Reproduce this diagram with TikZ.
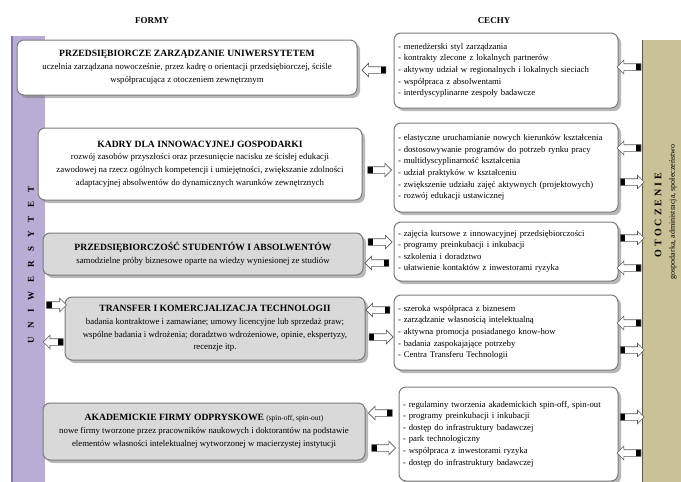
\documentclass[tikz,border=0pt]{standalone}
\usepackage{fontspec}
\setmainfont{Liberation Serif}
\usetikzlibrary{shapes.arrows,shadows}
\definecolor{uniwfill}{HTML}{B9ADD6}
\definecolor{uniwline}{HTML}{8676B0}
\definecolor{otoczfill}{HTML}{CBC197}
\definecolor{otoczline}{HTML}{5E5848}
\definecolor{boxgray}{HTML}{D9D9D9}
\definecolor{boxline}{HTML}{7A7A7A}
\newcommand{\tytul}[1]{{\fontsize{9.6}{12}\selectfont\bfseries #1}}
\tikzset{
    forma/.style={draw=boxline, line width=1pt, rounded corners=7pt, fill=white, align=center,
        inner sep=2pt, font=\fontsize{8.8}{12.8}\selectfont,
        drop shadow={shadow xshift=3pt, shadow yshift=-3pt, fill=black!55}},
    formagray/.style={forma, fill=boxgray},
    cecha/.style={forma, align=left, text width=216pt, inner xsep=4pt, font=\fontsize{8.7}{11.6}\selectfont},
    flowarrow/.style={single arrow, draw=gray!70!black, fill=white, line width=0.6pt,
        inner xsep=0pt, inner ysep=3pt, minimum height=24pt, minimum width=13pt, single arrow head extend=3.5pt},
    flowright/.style={flowarrow, shape border rotate=0,
        path picture={\fill[black] (path picture bounding box.south west) rectangle ([xshift=5pt]path picture bounding box.north west);}},
    flowleft/.style={flowarrow, shape border rotate=180,
        path picture={\fill[black] ([xshift=-5pt]path picture bounding box.south east) rectangle (path picture bounding box.north east);}}
}
\begin{document}
\begin{tikzpicture}[x=1pt, y=-1pt]
    \useasboundingbox[fill=white] (0,0) rectangle (681,482);

    \node[fill=uniwfill, inner sep=0pt, minimum width=33pt, minimum height=446pt] (uniw) at (28.5,259) {};
    \draw[uniwline, line width=1.5pt] (uniw.north west) -- (uniw.south west);
    \node[rotate=90, font=\fontsize{9}{9}\selectfont\bfseries] at (31,265)
        {U\hspace{9pt}N\hspace{9pt}I\hspace{9pt}W\hspace{9pt}E\hspace{9pt}R\hspace{9pt}S\hspace{9pt}Y\hspace{9pt}T\hspace{9pt}E\hspace{9pt}T};

    \node[fill=otoczfill, inner sep=0pt, minimum width=38pt, minimum height=442pt] (otocz) at (662,261) {};
    \draw[otoczline, line width=1.2pt] (otocz.north west) -- (otocz.south west);
    \node[rotate=90, font=\fontsize{10}{10}\selectfont\bfseries] at (658,215)
        {O\hspace{3pt}T\hspace{3pt}O\hspace{3pt}C\hspace{3pt}Z\hspace{3pt}E\hspace{3pt}N\hspace{3pt}I\hspace{3pt}E};
    \node[rotate=90, font=\fontsize{8}{8}\selectfont] at (673,212) {gospodarka, administracja, społeczeństwo};

    \node[font=\fontsize{9}{9}\selectfont\bfseries] (formy) at (152,21) {FORMY};
    \node[font=\fontsize{9}{9}\selectfont\bfseries] (cechy) at (494,21) {CECHY};

    \node[forma, minimum width=340pt, minimum height=55pt] (f1) at (187,67.5)
        {\tytul{PRZEDSIĘBIORCZE ZARZĄDZANIE UNIWERSYTETEM}\\
        uczelnia zarządzana nowocześnie, przez kadrę o orientacji przedsiębiorczej, ściśle\\
        współpracująca z otoczeniem zewnętrznym};
    \node[forma, minimum width=324pt, minimum height=72pt] (f2) at (200,164)
        {\tytul{KADRY DLA INNOWACYJNEJ GOSPODARKI}\\
        rozwój zasobów przyszłości oraz przesunięcie nacisku ze ścisłej edukacji\\
        zawodowej na rzecz ogólnych kompetencji i umiejętności, zwiększanie zdolności\\
        adaptacyjnej absolwentów do dynamicznych warunków zewnętrznych};
    \node[formagray, minimum width=320pt, minimum height=42pt] (f3) at (203,254)
        {\tytul{PRZEDSIĘBIORCZOŚĆ STUDENTÓW I ABSOLWENTÓW}\\
        samodzielne próby biznesowe oparte na wiedzy wyniesionej ze studiów};
    \node[formagray, minimum width=300pt, minimum height=63pt] (f4) at (215,328.5)
        {\tytul{TRANSFER I KOMERCJALIZACJA TECHNOLOGII}\\
        badania kontraktowe i zamawiane; umowy licencyjne lub sprzedaż praw;\\
        wspólne badania i wdrożenia; doradztwo wdrożeniowe, opinie, ekspertyzy,\\
        recenzje itp.};
    \node[formagray, minimum width=322pt, minimum height=57pt] (f5) at (204,431.5)
        {\tytul{AKADEMICKIE FIRMY ODPRYSKOWE} {\fontsize{7.5}{9}\selectfont (spin-off, spin-out)}\\
        nowe firmy tworzone przez pracowników naukowych i doktorantów na podstawie\\
        elementów własności intelektualnej wytworzonej w macierzystej instytucji};

    \node[cecha, minimum height=75pt] (cA) at (506,70.5)
        {- menedżerski styl zarządzania\\
        - kontrakty zlecone z lokalnych partnerów\\
        - aktywny udział w regionalnych i lokalnych sieciach\\
        - współpraca z absolwentami\\
        - interdyscyplinarne zespoły badawcze};
    \node[cecha, minimum height=89pt] (cB) at (506,167.5)
        {- elastyczne uruchamianie nowych kierunków kształcenia\\
        - dostosowywanie programów do potrzeb rynku pracy\\
        - multidyscyplinarność kształcenia\\
        - udział praktyków w kształceniu\\
        - zwiększenie udziału zajęć aktywnych (projektowych)\\
        - rozwój edukacji ustawicznej};
    \node[cecha, minimum height=59pt] (cC) at (506,251.5)
        {- zajęcia kursowe z innowacyjnej przedsiębiorczości\\
        - programy preinkubacji i inkubacji\\
        - szkolenia i doradztwo\\
        - ułatwienie kontaktów z inwestorami ryzyka};
    \node[cecha, minimum height=75pt] (cD) at (506,332.5)
        {- szeroka współpraca z biznesem\\
        - zarządzanie własnością intelektualną\\
        - aktywna promocja posiadanego know-how\\
        - badania zaspokajające potrzeby\\
        - Centra Transferu Technologii};
    \node[cecha, text width=211pt, minimum height=94pt] (cE) at (508.5,434)
        {- regulaminy tworzenia akademickich spin-off, spin-out\\
        - programy preinkubacji i inkubacji\\
        - dostęp do infrastruktury badawczej\\
        - park technologiczny\\
        - współpraca z inwestorami ryzyka\\
        - dostęp do infrastruktury badawczej};

    \path (cA.west |- 0,70) -- (f1.east |- 0,70) node[midway, flowleft] {};
    \path (f2.east |- 0,170) -- (cB.west |- 0,170) node[midway, flowright] {};
    \path (f3.east |- 0,242) -- (cC.west |- 0,242) node[midway, flowright] {};
    \path (cC.west |- 0,263) -- (f3.east |- 0,263) node[midway, flowleft] {};
    \path (cD.west |- 0,310) -- (f4.east |- 0,310) node[midway, flowleft] {};
    \path (f4.east |- 0,337) -- (cD.west |- 0,337) node[midway, flowright] {};
    \path (cE.west |- 0,413) -- (f5.east |- 0,413) node[midway, flowleft] {};
    \path (f5.east |- 0,448) -- (cE.west |- 0,448) node[midway, flowright] {};

    \path (uniw.east |- 0,305) -- (f4.west |- 0,305) node[midway, flowright, minimum height=20pt] {};
    \path (f4.west |- 0,342) -- (uniw.east |- 0,342) node[midway, flowleft, minimum height=20pt] {};

    \path (otocz.west |- 0,67) -- (cA.east |- 0,67) node[midway, flowleft] {};
    \path (otocz.west |- 0,148) -- (cB.east |- 0,148) node[midway, flowleft] {};
    \path (cB.east |- 0,182) -- (otocz.west |- 0,182) node[midway, flowright] {};
    \path (cC.east |- 0,238) -- (otocz.west |- 0,238) node[midway, flowright] {};
    \path (otocz.west |- 0,268) -- (cC.east |- 0,268) node[midway, flowleft] {};
    \path (otocz.west |- 0,323) -- (cD.east |- 0,323) node[midway, flowleft] {};
    \path (cD.east |- 0,350) -- (otocz.west |- 0,350) node[midway, flowright] {};
    \path (cE.east |- 0,417) -- (otocz.west |- 0,417) node[midway, flowright] {};
    \path (otocz.west |- 0,453) -- (cE.east |- 0,453) node[midway, flowleft] {};
  \end{tikzpicture}
\end{document}
